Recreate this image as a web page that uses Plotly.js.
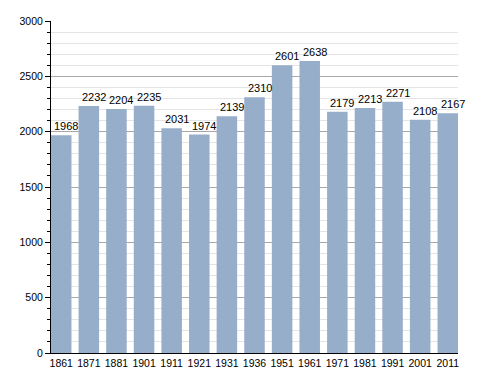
<!DOCTYPE html>
<html><head><meta charset="utf-8">
<script src="https://cdn.plot.ly/plotly-3.0.1.min.js"></script>
<style>html,body{margin:0;padding:0;background:#fff}#c{width:488px;height:373px}</style>
</head><body><div id="c"></div>
<script>
const years = ["1861","1871","1881","1901","1911","1921","1931","1936","1951","1961","1971","1981","1991","2001","2011"];
const population = [1968,2232,2204,2235,2031,1974,2139,2310,2601,2638,2179,2213,2271,2108,2167];
const yTicks = [0,500,1000,1500,2000,2500,3000];

const labels = years.map((yr, i) => ({
  x: i, y: population[i], text: String(population[i]), showarrow:false,
  xref:'x', yref:'y',
  xanchor:'center', yanchor:'bottom', xshift:5, yshift:1,
  font:{family:'Liberation Sans, Arial, sans-serif', size:11, color:'#000'}
}));

Plotly.newPlot('c', [{
  type:'bar', x: years, y: population,
  marker:{color:'#97aecb'}, hoverinfo:'none'
}], {
  width:488, height:373,
  margin:{l:51, r:30, t:21, b:20},
  paper_bgcolor:'#fff', plot_bgcolor:'#fff',
  bargap:0.257, showlegend:false,
  font:{family:'Liberation Sans, Arial, sans-serif', size:11, color:'#000'},
  annotations: labels,
  xaxis:{type:'category', range:[-0.37,14.37], showline:true, linecolor:'#000', linewidth:1,
         ticks:'', showgrid:false, tickfont:{size:10.5}, fixedrange:true},
  yaxis:{range:[0,3000], tickvals:yTicks, ticktext:yTicks.map(String),
         showline:true, linecolor:'#000', linewidth:1, ticks:'outside', ticklen:5, tickcolor:'#000',
         showgrid:true, gridcolor:'#a8a8a8', gridwidth:1, zeroline:false,
         minor:{dtick:100, tick0:0, ticks:'outside', ticklen:3, tickcolor:'#000', showgrid:true, gridcolor:'#e4e4e4', gridwidth:1},
         tickfont:{size:10.5}, fixedrange:true}
}, {staticPlot:true});
</script></body></html>
